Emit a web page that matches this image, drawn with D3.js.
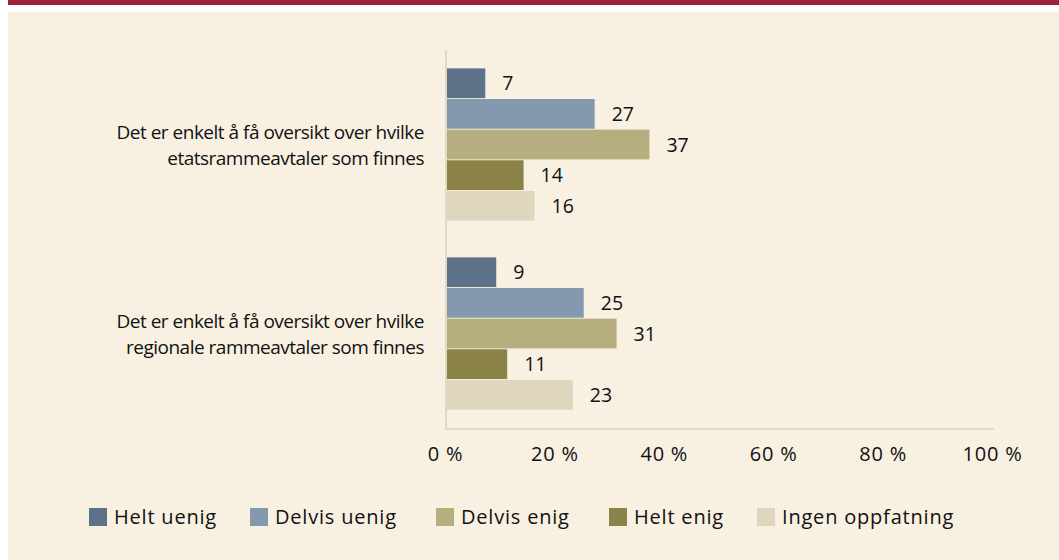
<!DOCTYPE html>
<html>
<head>
<meta charset="utf-8">
<script src="https://cdn.jsdelivr.net/npm/d3@7"></script>
<style>
	html, body { margin: 0; padding: 0; background: #ffffff; }
	svg { display: block; }
	text { font-family: "Open Sans", sans-serif; fill: #111111; }
</style>
</head>
<body>
<div id="chart"></div>
<script>
(function () {

	var categories = [
		["Det er enkelt å få oversikt over hvilke", "etatsrammeavtaler som finnes"],
		["Det er enkelt å få oversikt over hvilke", "regionale rammeavtaler som finnes"]
	];
	var seriesNames = ["Helt uenig", "Delvis uenig", "Delvis enig", "Helt enig", "Ingen oppfatning"];
	var seriesColors = ["#5d7189", "#8499ad", "#b7ae7f", "#8b8247", "#ded6bd"];
	var heltUenig = [7, 9];
	var delvisUenig = [27, 25];
	var delvisEnig = [37, 31];
	var heltEnig = [14, 11];
	var ingenOppfatning = [16, 23];
	var tickValues = [0, 20, 40, 60, 80, 100];

	var values = [heltUenig, delvisUenig, delvisEnig, heltEnig, ingenOppfatning];

	var width = 1059, height = 560;

	var svg = d3.select("#chart")
				.append("svg")
				.attr("width", width)
				.attr("height", height);

	// header band and panel
	svg.append("rect")
		.attr("x", 8).attr("y", 0)
		.attr("width", width - 8).attr("height", 5)
		.style("fill", "#9b2536");

	svg.append("rect")
		.attr("x", 8).attr("y", 12)
		.attr("width", width - 8).attr("height", height - 12)
		.style("fill", "#f8f0e1");

	var x = d3.scaleLinear()
				.domain([0, 100])
				.range([447, 994]);

	var y0 = d3.scaleBand()
				.domain(d3.range(categories.length))
				.range([50, 428]);

	var y1 = d3.scaleBand()
				.domain(d3.range(seriesNames.length))
				.range([0, y0.bandwidth()])
				.paddingInner(0.03)
				.paddingOuter(0.6);

	var axisColor = "#e1d9c1";

	// bars
	var groups = svg.selectAll("g.group")
		.data(categories)
		.enter()
		.append("g")
		.attr("class", "group")
		.attr("transform", function(d, i) { return "translate(0," + y0(i) + ")"; });

	groups.selectAll("rect")
		.data(function(d, i) {
			return values.map(function(s, j) { return {series: j, value: s[i]}; });
		})
		.enter()
		.append("rect")
		.attr("x", x(0))
		.attr("y", function(d) { return y1(d.series); })
		.attr("width", function(d) { return x(d.value) - x(0); })
		.attr("height", y1.bandwidth())
		.style("fill", function(d) { return seriesColors[d.series]; });

	groups.selectAll("text.val")
		.data(function(d, i) {
			return values.map(function(s, j) { return {series: j, value: s[i]}; });
		})
		.enter()
		.append("text")
		.attr("class", "val")
		.attr("x", function(d) { return x(d.value) + 17; })
		.attr("y", function(d) { return y1(d.series) + y1.bandwidth() / 2; })
		.attr("dy", "0.36em")
		.style("font-size", "19.5px")
		.text(function(d) { return d.value; });

	// category labels
	var labels = groups.append("text")
		.attr("text-anchor", "end")
		.style("font-size", "19px")
		.style("letter-spacing", "-0.5px")
		.attr("y", y0.bandwidth() / 2);

	labels.selectAll("tspan")
		.data(function(d) { return d; })
		.enter()
		.append("tspan")
		.attr("x", 424)
		.attr("dy", function(d, i) { return i === 0 ? "-0.3em" : "1.38em"; })
		.text(function(d) { return d; });

	// axes
	svg.append("line")
		.attr("x1", x(0) - 1).attr("x2", x(0) - 1)
		.attr("y1", 50).attr("y2", 429)
		.style("stroke", axisColor).style("stroke-width", 2);

	svg.append("line")
		.attr("x1", x(0) - 2).attr("x2", x(100))
		.attr("y1", 429).attr("y2", 429)
		.style("stroke", axisColor).style("stroke-width", 2);

	var xAxis = d3.axisBottom(x)
		.tickValues(tickValues)
		.tickSize(0)
		.tickPadding(0)
		.tickFormat(function(d) { return d + " %"; });

	var axisG = svg.append("g")
		.attr("transform", "translate(-2,447)")
		.call(xAxis);

	axisG.select(".domain").remove();
	axisG.selectAll("text")
		.style("font-size", "20px")
		.style("letter-spacing", "0.8px")
		.style("font-family", "'Open Sans', sans-serif")
		.attr("fill", "#111111");

	// legend
	var legendX = [89, 250, 436, 609, 757];

	var legend = svg.selectAll("g.legend")
		.data(seriesNames)
		.enter()
		.append("g")
		.attr("class", "legend")
		.attr("transform", function(d, i) { return "translate(" + legendX[i] + ",508)"; });

	legend.append("rect")
		.attr("width", 18)
		.attr("height", 18)
		.style("fill", function(d, i) { return seriesColors[i]; });

	legend.append("text")
		.attr("x", 25)
		.attr("y", 9)
		.attr("dy", "0.36em")
		.style("font-size", "20px")
		.style("letter-spacing", "0.8px")
		.text(function(d) { return d; });

}) ();
</script>
</body>
</html>
